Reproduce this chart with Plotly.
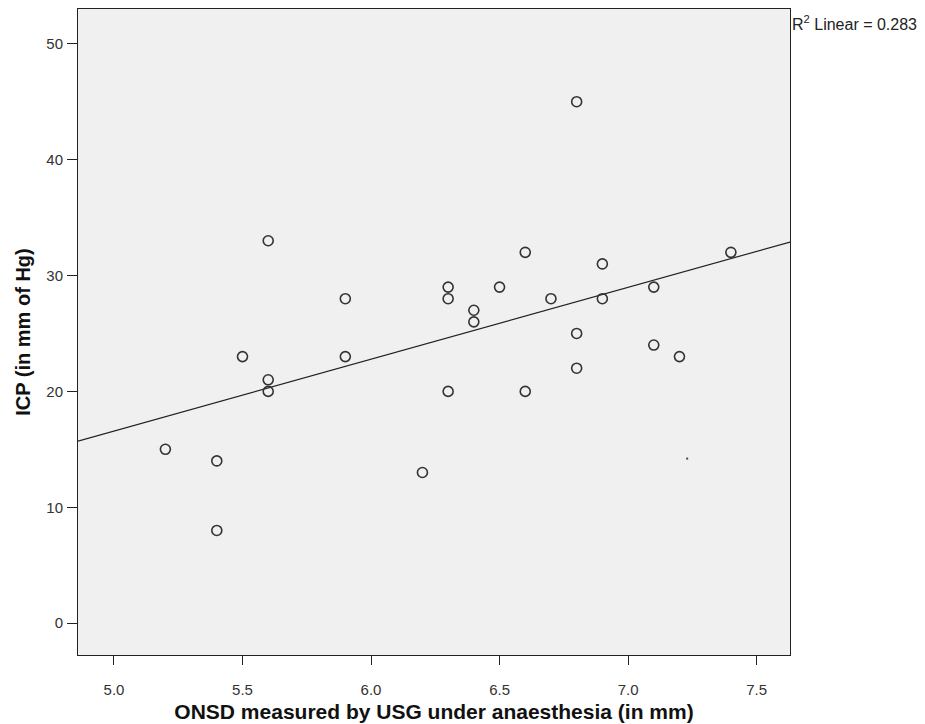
import numpy as np
import plotly.graph_objects as go

# ONSD (mm) and ICP (mm Hg)
onsd = [5.2, 5.4, 5.4, 5.5, 5.6, 5.6, 5.6, 5.9, 5.9, 6.2, 6.3, 6.3, 6.3, 6.4, 6.4,
        6.5, 6.6, 6.6, 6.7, 6.8, 6.8, 6.8, 6.9, 6.9, 7.1, 7.1, 7.2, 7.4]
icp = [15, 14, 8, 23, 33, 21, 20, 28, 23, 13, 29, 28, 20, 27, 26,
       29, 32, 20, 28, 45, 25, 22, 31, 28, 29, 24, 23, 32]
x_ticks = [5.0, 5.5, 6.0, 6.5, 7.0, 7.5]
y_ticks = [0, 10, 20, 30, 40, 50]
x_range = [4.86, 7.63]
y_range = [-2.75, 53.0]
r2_label = "R<sup>2</sup> Linear = 0.283"

slope, intercept = np.polyfit(onsd, icp, 1)
line_x = np.array(x_range)
line_y = intercept + slope * line_x

fig = go.Figure()
fig.add_trace(go.Scatter(x=line_x, y=line_y, mode="lines",
                         line=dict(color="#222222", width=1.2),
                         hoverinfo="skip", showlegend=False))
fig.add_trace(go.Scatter(x=onsd, y=icp, mode="markers",
                         marker=dict(symbol="circle-open", size=10,
                                     color="#333333", line=dict(width=1.6)),
                         showlegend=False))
# tiny stray dot visible in the reference
fig.add_trace(go.Scatter(x=[7.23], y=[14.2], mode="markers",
                         marker=dict(symbol="square", size=2, color="#444444"),
                         showlegend=False, hoverinfo="skip"))

axis_common = dict(showgrid=False, zeroline=False, showline=True, linecolor="#222222",
                   linewidth=1, mirror=True, ticks="outside",
                   tickcolor="#222222", tickwidth=1,
                   tickfont=dict(family="Liberation Sans, Arial", size=15, color="#333333"))

fig.update_layout(
    width=925, height=724,
    margin=dict(l=70, r=143, t=1, b=77),
    paper_bgcolor="white", plot_bgcolor="#F0F0F0",
    xaxis=dict(range=x_range, tickvals=x_ticks, ticktext=[f"{v:.1f}" for v in x_ticks],
               ticklen=9, ticklabelstandoff=12,
               title=dict(text="<b>ONSD measured by USG under anaesthesia (in mm)</b>",
                          font=dict(family="Liberation Sans, Arial", size=21, color="#111111"),
                          standoff=7),
               **axis_common),
    yaxis=dict(range=y_range, tickvals=y_ticks, ticktext=[str(v) for v in y_ticks],
               ticklen=10, ticklabelstandoff=1,
               title=dict(text="<b>ICP (in mm of Hg)</b>",
                          font=dict(family="Liberation Sans, Arial", size=20, color="#111111"),
                          standoff=10),
               **axis_common),
    annotations=[dict(text=r2_label, xref="paper", yref="paper", x=1.0, y=1.0,
                      xanchor="left", yanchor="top", yshift=-2, showarrow=False,
                      font=dict(family="Liberation Sans, Arial", size=16, color="#222222"))],
)

fig.write_html("out.html")
